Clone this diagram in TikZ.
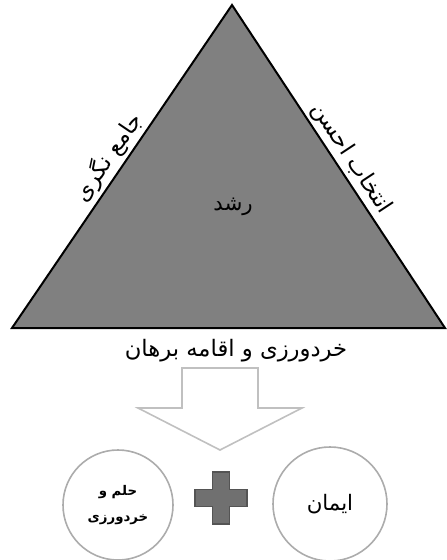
\documentclass[tikz,border=0pt]{standalone}
\usepackage{fontspec}
\newfontfamily\arabicfont[Script=Arabic]{DejaVu Sans}
\TeXXeTstate=1
\usetikzlibrary{math}
\definecolor{tgray}{RGB}{128,128,128}
\definecolor{agray}{RGB}{192,192,192}
\definecolor{cgray}{RGB}{172,172,172}
\definecolor{pgray}{RGB}{112,112,112}
\definecolor{pedge}{RGB}{84,84,84}
\newcommand{\fatext}[1]{{\arabicfont\beginR #1\endR}}

\begin{document}
\begin{tikzpicture}[x=0.75pt,y=-0.75pt]

\tikzmath{
\Ax = 232; \Ay = 5;%apex
\By = 328;%base
\Sl = 182; \Sr = 258; \St = 368;%arrow shaft
\Hl = 138; \Hr = 302; \Ht = 408;%arrow head
\Tx = 220; \Ty = 450;%arrow tip
\Px = 221; \Py = 498;%plus centre
\pa = 26; \pb = 8.5;
}

\useasboundingbox (0,0) rectangle (446,560);

%triangle:
\coordinate (A) at (\Ax,\Ay);
\coordinate (B) at (12,\By);
\coordinate (C) at (445,\By);
\draw[fill=tgray, line width=1.5pt] (B)
  -- node[sloped, above, inner sep=2pt] (wide) {\fontsize{17}{20}\selectfont\fatext{جامع نگری}} (A)
  -- node[sloped, above, inner sep=2pt] (best) {\fontsize{17}{20}\selectfont\fatext{انتخاب احسن}} (C)
  -- cycle;

\node (growth) at (233,207) {\fontsize{16}{19}\selectfont\fatext{رشد}};
\node (reason) at (236,351) {\fontsize{17}{20}\selectfont\fatext{خردورزی و اقامه برهان}};

%hollow arrow:
\draw[agray, fill=white, line width=1.2pt] (\Sl,\St) -- (\Sr,\St) -- (\Sr,\Ht) -- (\Hr,\Ht)
  -- (\Tx,\Ty) -- (\Hl,\Ht) -- (\Sl,\Ht) -- cycle;

%circles:
\node[circle, draw=cgray, line width=1.2pt, minimum size=82.5pt, align=center,
  font=\fontsize{10}{19.5}\selectfont\bfseries] (mind) at (118,505)
  {\fatext{حلم و}\\\fatext{خردورزی}};
\node[circle, draw=cgray, line width=1.2pt, minimum size=85.5pt] (faith) at (330,504)
  {\fontsize{16}{19}\selectfont\fatext{ایمان}};

%plus:
\draw[pedge, fill=pgray, line width=0.8pt] (\Px-\pb,\Py-\pa) -- (\Px+\pb,\Py-\pa) -- (\Px+\pb,\Py-\pb)
  -- (\Px+\pa,\Py-\pb) -- (\Px+\pa,\Py+\pb) -- (\Px+\pb,\Py+\pb) -- (\Px+\pb,\Py+\pa)
  -- (\Px-\pb,\Py+\pa) -- (\Px-\pb,\Py+\pb) -- (\Px-\pa,\Py+\pb) -- (\Px-\pa,\Py-\pb)
  -- (\Px-\pb,\Py-\pb) -- cycle;

\end{tikzpicture}
\end{document}
